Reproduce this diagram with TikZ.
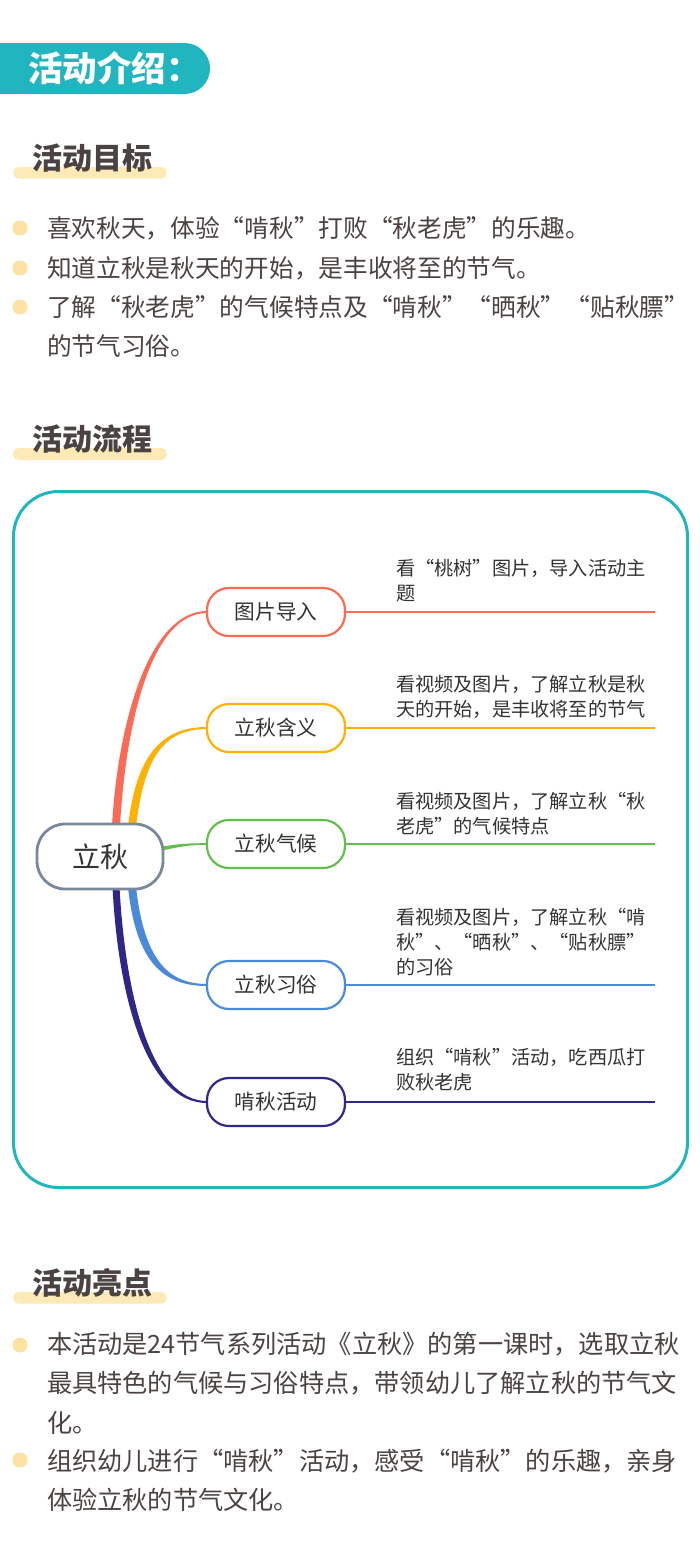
\documentclass[tikz,border=0pt]{standalone}
\usepackage{fontspec}
\setmainfont{Noto Sans CJK SC}
\usetikzlibrary{calc}
\definecolor{hdr}{HTML}{21B6BF}
\definecolor{barc}{HTML}{FEEAB6}
\definecolor{bulc}{HTML}{FDE2A2}
\definecolor{txt}{HTML}{4A4341}
\definecolor{dtxt}{HTML}{333333}
\definecolor{cRed}{HTML}{FA6A55}
\definecolor{cOra}{HTML}{FDB100}
\definecolor{cGre}{HTML}{63BF4B}
\definecolor{cBlu}{HTML}{4A8AD8}
\definecolor{cNav}{HTML}{2E2787}
\definecolor{cCen}{HTML}{7B879B}
\begin{document}
\begin{tikzpicture}[x=1pt,y=-1pt,
  every node/.style={inner sep=0pt, outer sep=0pt},
  body/.style={anchor=base west, text=txt, font=\fontsize{24.7}{30}\selectfont},
  bodyb/.style={anchor=base west, text=txt, font=\fontsize{25.2}{30}\selectfont},
  ttl/.style={anchor=base west, text=txt, font=\fontsize{30}{36}\selectfont\bfseries},
  desc/.style={anchor=base west, text=dtxt, font=\fontsize{19.2}{24}\selectfont},
  branch/.style={draw, fill=white, line width=2.2pt, rounded corners=22pt, minimum width=138pt, minimum height=48pt, text=dtxt, font=\fontsize{20.7}{24}\selectfont},
  center/.style={draw=cCen, fill=white, line width=2.8pt, rounded corners=28pt, minimum width=126pt, minimum height=65pt, text=dtxt, font=\fontsize{28}{32}\selectfont},
  hbar/.style={fill=barc, rounded corners=5.5pt},
  bul/.style={fill=bulc},
  leaf/.style={line width=2pt}
]
\fill[white] (0,0) rectangle (700,1550);
\useasboundingbox (0,0) rectangle (700,1550);

% header
\fill[hdr, rounded corners=25.5pt] (0,43) rectangle (210,94);
\fill[hdr] (0,43) rectangle (60,94);
\node[anchor=base west, text=white, font=\fontsize{34.5}{40}\selectfont\bfseries] (hdrtxt) at (28,81.5) {活动介绍：};

% section 1
\fill[hbar] (13,167) rectangle (167,178.5);
\node[ttl] (t1) at (32,169.4) {活动目标};
\fill[bul] (20,228) circle (7.5);
\fill[bul] (20,268) circle (7.5);
\fill[bul] (20,307) circle (7.5);
\node[body] (g1) at (47,237.4) {喜欢秋天，体验“啃秋”打败“秋老虎”的乐趣。};
\node[body] (g2) at (47,277.4) {知道立秋是秋天的开始，是丰收将至的节气。};
\node[body] (g3) at (47,316.4) {了解“秋老虎”的气候特点及“啃秋”“晒秋”“贴秋膘”};
\node[body] (g4) at (47,355.4) {的节气习俗。};

% section 2
\fill[hbar] (13,448) rectangle (167,460);
\node[ttl] (t2) at (32,450.4) {活动流程};
\draw[hdr, line width=3pt, rounded corners=45pt] (13.5,491.5) rectangle (687.5,1187.5);

% mind map node positions
\coordinate (cpos) at (100,856.5);
\coordinate (p1) at (276,612);
\coordinate (p2) at (276,728);
\coordinate (p3) at (276,844);
\coordinate (p4) at (276,985);
\coordinate (p5) at (276,1102);
\path (cpos) node[center, draw=none, fill=none] (c0) {\phantom{立秋}};
\path (p1) node[branch, draw=none, fill=none] (b1) {\phantom{图片导入}};
\path (p2) node[branch, draw=none, fill=none] (b2) {\phantom{图片导入}};
\path (p3) node[branch, draw=none, fill=none] (b3) {\phantom{图片导入}};
\path (p4) node[branch, draw=none, fill=none] (b4) {\phantom{图片导入}};
\path (p5) node[branch, draw=none, fill=none] (b5) {\phantom{图片导入}};

% tapered branches
\fill[cRed] ($(c0.north)+(12,2)$) .. controls ($(c0.north)+(18,-104)$) and ($(b1.west)+(-57,-1)$) .. ($(b1.west)+(0,-1)$)
  -- ($(b1.west)+(0,1)$) .. controls ($(b1.west)+(-55,1)$) and ($(c0.north)+(26,-104)$) .. ($(c0.north)+(20,2)$) -- cycle;
\fill[cOra] ($(c0.north)+(28,2)$) .. controls ($(c0.north)+(36,-64)$) and ($(b2.west)+(-49,-1)$) .. ($(b2.west)+(0,-1)$)
  -- ($(b2.west)+(0,1)$) .. controls ($(b2.west)+(-45,1)$) and ($(c0.north)+(44,-64)$) .. ($(c0.north)+(36,2)$) -- cycle;
\fill[cGre] ($(c0.east)+(-3,-9.5)$) .. controls ($(b3.west)+(-27,-0.5)$) and ($(b3.west)+(-17,-0.8)$) .. ($(b3.west)+(0,-0.8)$)
  -- ($(b3.west)+(0,0.8)$) .. controls ($(b3.west)+(-17,0.8)$) and ($(b3.west)+(-27,2.5)$) .. ($(c0.east)+(-3,-5.5)$) -- cycle;
\fill[cBlu] ($(c0.south)+(28,-2)$) .. controls ($(c0.south)+(36,73)$) and ($(b4.west)+(-44,1)$) .. ($(b4.west)+(0,1)$)
  -- ($(b4.west)+(0,-1)$) .. controls ($(b4.west)+(-40,-1)$) and ($(c0.south)+(44,69)$) .. ($(c0.south)+(36,-2)$) -- cycle;
\fill[cNav] ($(c0.south)+(12.5,-2)$) .. controls ($(c0.south)+(18.5,113)$) and ($(b5.west)+(-59,1)$) .. ($(b5.west)+(0,1)$)
  -- ($(b5.west)+(0,-1)$) .. controls ($(b5.west)+(-55,-1)$) and ($(c0.south)+(25.5,109)$) .. ($(c0.south)+(19.5,-2)$) -- cycle;

% leaf lines
\coordinate (e1) at (655,612);
\coordinate (e2) at (655,728);
\coordinate (e3) at (655,844);
\coordinate (e4) at (655,985);
\coordinate (e5) at (655,1102);
\draw[leaf, cRed] (b1.east) -- (e1);
\draw[leaf, cOra] (b2.east) -- (e2);
\draw[leaf, cGre] (b3.east) -- (e3);
\draw[leaf, cBlu] (b4.east) -- (e4);
\draw[leaf, cNav] (b5.east) -- (e5);

% visible nodes
\node[center] (cn) at (cpos) {立秋};
\node[branch, draw=cRed] (n1) at (p1) {图片导入};
\node[branch, draw=cOra] (n2) at (p2) {立秋含义};
\node[branch, draw=cGre] (n3) at (p3) {立秋气候};
\node[branch, draw=cBlu] (n4) at (p4) {立秋习俗};
\node[branch, draw=cNav] (n5) at (p5) {啃秋活动};

% descriptions
\node[desc] (d1a) at (396,575.3) {看“桃树”图片，导入活动主};
\node[desc] (d1b) at (396,600.3) {题};
\node[desc] (d2a) at (396,691.5) {看视频及图片，了解立秋是秋};
\node[desc] (d2b) at (396,716.5) {天的开始，是丰收将至的节气};
\node[desc] (d3a) at (396,808.3) {看视频及图片，了解立秋“秋};
\node[desc] (d3b) at (396,833.3) {老虎”的气候特点};
\node[desc] (d4a) at (396,924.3) {看视频及图片，了解立秋“啃};
\node[desc] (d4b) at (396,949.8) {秋”、“晒秋”、“贴秋膘”};
\node[desc] (d4c) at (396,974.3) {的习俗};
\node[desc] (d5a) at (396,1064.3) {组织“啃秋”活动，吃西瓜打};
\node[desc] (d5b) at (396,1089.3) {败秋老虎};

% section 3
\fill[hbar] (13,1292) rectangle (167,1303.5);
\node[ttl] (t3) at (32,1294.4) {活动亮点};
\fill[bul] (20,1345) circle (7.5);
\fill[bul] (20,1460) circle (7.5);
\node[bodyb] (h1) at (47,1353.6) {本活动是24节气系列活动《立秋》的第一课时，选取立秋};
\node[bodyb] (h2) at (47,1392.6) {最具特色的气候与习俗特点，带领幼儿了解立秋的节气文};
\node[bodyb] (h3) at (47,1432.6) {化。};
\node[bodyb] (h4) at (47,1470.6) {组织幼儿进行“啃秋”活动，感受“啃秋”的乐趣，亲身};
\node[bodyb] (h5) at (47,1509.6) {体验立秋的节气文化。};
\end{tikzpicture}
\end{document}
